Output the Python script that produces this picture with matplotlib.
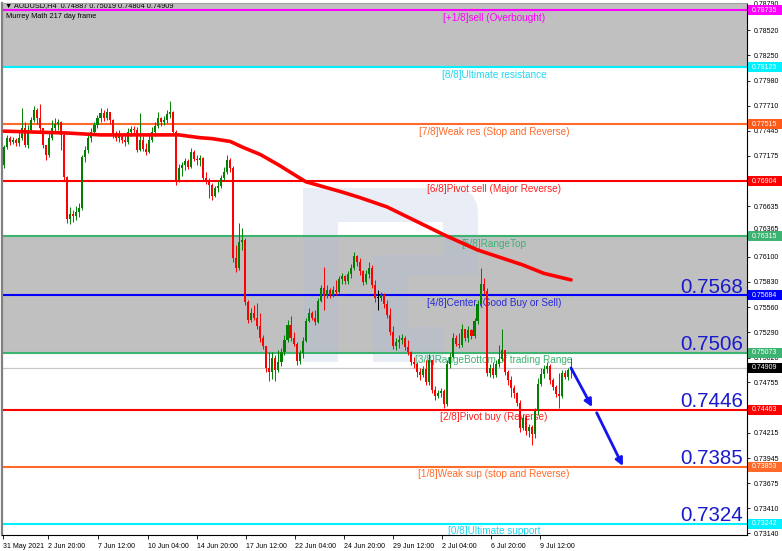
import matplotlib
matplotlib.use("Agg")
import matplotlib.pyplot as plt
from matplotlib.patches import Rectangle, Polygon
from matplotlib.transforms import blended_transform_factory, ScaledTranslation

plt.rcParams['font.family'] = ['Liberation Sans', 'DejaVu Sans']

# ---------------- data ----------------
chart_title = "\u25bc AUDUSD,H4  0.74887 0.75019 0.74804 0.74909"
indicator_name = "Murrey Math 217 day frame"

first_open = 0.7708
closes = [
    0.7727, 0.7737, 0.7732, 0.7735, 0.7731, 0.7737, 0.7747, 0.7729, 0.7745, 0.7756,
    0.7767, 0.7758, 0.7747, 0.7729, 0.7718, 0.7737, 0.7747, 0.7752, 0.7754, 0.7740,
    0.7695, 0.7650, 0.7655, 0.7653, 0.7658, 0.7662, 0.7716, 0.7724, 0.7737, 0.7743,
    0.7751, 0.7758, 0.7763, 0.7758, 0.7765, 0.7756, 0.7740, 0.7737, 0.7739, 0.7735,
    0.7732, 0.7743, 0.7746, 0.7745, 0.7724, 0.7735, 0.7725, 0.7722, 0.7735, 0.7743,
    0.7750, 0.7758, 0.7754, 0.7756, 0.7762, 0.7765, 0.7743, 0.7692, 0.7705, 0.7708,
    0.7712, 0.7706, 0.7722, 0.7714, 0.7713, 0.7715, 0.7694, 0.7690, 0.7686, 0.7675,
    0.7683, 0.7685, 0.7694, 0.7700, 0.7713, 0.7705, 0.7608, 0.7598, 0.7625, 0.7628,
    0.7561, 0.7542, 0.7550, 0.7544, 0.7536, 0.7523, 0.7514, 0.7491, 0.7487, 0.7501,
    0.7489, 0.7497, 0.7508, 0.7521, 0.7537, 0.7523, 0.7517, 0.7498, 0.7507, 0.7520,
    0.7541, 0.7550, 0.7544, 0.7540, 0.7562, 0.7576, 0.7568, 0.7574, 0.7569, 0.7574,
    0.7572, 0.7586, 0.7589, 0.7584, 0.7591, 0.7598, 0.7611, 0.7604, 0.7594, 0.7583,
    0.7591, 0.7598, 0.7580, 0.7566, 0.7566, 0.7569, 0.7559, 0.7547, 0.7529, 0.7514,
    0.7519, 0.7521, 0.7523, 0.7513, 0.7508, 0.7497, 0.7495, 0.7487, 0.7483, 0.7490,
    0.7476, 0.7499, 0.7467, 0.7461, 0.7464, 0.7466, 0.7452, 0.7495, 0.7503, 0.7523,
    0.7517, 0.7515, 0.7533, 0.7523, 0.7531, 0.7525, 0.7541, 0.7559, 0.7581, 0.7573,
    0.7485, 0.7491, 0.7483, 0.7495, 0.7500, 0.7510, 0.7487, 0.7478, 0.7469, 0.7464,
    0.7453, 0.7427, 0.7437, 0.7424, 0.7428, 0.7420, 0.7445, 0.7474, 0.7484, 0.7490,
    0.7493, 0.7478, 0.7471, 0.7463, 0.7461, 0.7485, 0.7481, 0.74887, 0.74909,
]
highs = [
    0.7729, 0.7740, 0.7739, 0.7738, 0.7737, 0.7745, 0.7769, 0.7754, 0.7751, 0.7759,
    0.7771, 0.7769, 0.7773, 0.7747, 0.7729, 0.7742, 0.7756, 0.7758, 0.7757, 0.7755,
    0.7743, 0.7696, 0.7663, 0.7660, 0.7664, 0.7667, 0.7719, 0.7728, 0.7742, 0.7747,
    0.7754, 0.7761, 0.7769, 0.7767, 0.7769, 0.7765, 0.7757, 0.7744, 0.7745, 0.7741,
    0.7740, 0.7747, 0.7749, 0.7749, 0.7748, 0.7763, 0.7739, 0.7731, 0.7742, 0.7748,
    0.7754, 0.7765, 0.7759, 0.7760, 0.7767, 0.7776, 0.7766, 0.7745, 0.7709, 0.7711,
    0.7715, 0.7714, 0.7726, 0.7724, 0.7719, 0.7719, 0.7716, 0.7700, 0.7694, 0.7689,
    0.7685, 0.7691, 0.7697, 0.7706, 0.7718, 0.7715, 0.7707, 0.7622, 0.7646, 0.7640,
    0.7630, 0.7563, 0.7555, 0.7558, 0.7560, 0.7550, 0.7526, 0.7514, 0.7508, 0.7508,
    0.7505, 0.7510, 0.7512, 0.7526, 0.7542, 0.7546, 0.7529, 0.7519, 0.7510, 0.7524,
    0.7544, 0.7555, 0.7552, 0.7553, 0.7566, 0.7580, 0.7599, 0.7580, 0.7576, 0.7578,
    0.7585, 0.7589, 0.7592, 0.7590, 0.7594, 0.7602, 0.7615, 0.7612, 0.7608, 0.7596,
    0.7596, 0.7604, 0.7601, 0.7585, 0.7574, 0.7572, 0.7571, 0.7563, 0.7555, 0.7536,
    0.7523, 0.7526, 0.7527, 0.7525, 0.7521, 0.7509, 0.7503, 0.7497, 0.7491, 0.7493,
    0.7499, 0.7506, 0.7499, 0.7472, 0.7467, 0.7469, 0.7468, 0.7499, 0.7507, 0.7528,
    0.7526, 0.7528, 0.7538, 0.7533, 0.7536, 0.7533, 0.7544, 0.7563, 0.7598, 0.7587,
    0.7576, 0.7495, 0.7497, 0.7499, 0.7515, 0.7533, 0.7510, 0.7489, 0.7482, 0.7473,
    0.7465, 0.7457, 0.7442, 0.7441, 0.7431, 0.7430, 0.7448, 0.7480, 0.7491, 0.7494,
    0.7497, 0.7495, 0.7480, 0.7473, 0.7485, 0.7489, 0.7489, 0.7491, 0.75019,
]
lows = [
    0.7705, 0.7725, 0.7729, 0.7730, 0.7728, 0.7728, 0.7735, 0.7727, 0.7726, 0.7743,
    0.7754, 0.7752, 0.7743, 0.7726, 0.7713, 0.7716, 0.7735, 0.7744, 0.7745, 0.7724,
    0.7692, 0.7646, 0.7645, 0.7647, 0.7649, 0.7652, 0.7660, 0.7711, 0.7721, 0.7732,
    0.7740, 0.7747, 0.7754, 0.7755, 0.7756, 0.7752, 0.7737, 0.7733, 0.7732, 0.7731,
    0.7728, 0.7730, 0.7739, 0.7741, 0.7722, 0.7723, 0.7723, 0.7719, 0.7721, 0.7732,
    0.7739, 0.7747, 0.7750, 0.7751, 0.7753, 0.7758, 0.7742, 0.7686, 0.7690, 0.7696,
    0.7703, 0.7704, 0.7705, 0.7712, 0.7708, 0.7707, 0.7692, 0.7688, 0.7673, 0.7670,
    0.7674, 0.7679, 0.7683, 0.7692, 0.7698, 0.7700, 0.7604, 0.7593, 0.7596, 0.7617,
    0.7558, 0.7539, 0.7540, 0.7542, 0.7533, 0.7519, 0.7511, 0.7487, 0.7477, 0.7479,
    0.7477, 0.7487, 0.7493, 0.7505, 0.7519, 0.7520, 0.7514, 0.7494, 0.7495, 0.7501,
    0.7519, 0.7540, 0.7542, 0.7537, 0.7539, 0.7561, 0.7553, 0.7566, 0.7566, 0.7567,
    0.7569, 0.7571, 0.7581, 0.7581, 0.7581, 0.7587, 0.7596, 0.7600, 0.7590, 0.7580,
    0.7581, 0.7587, 0.7576, 0.7561, 0.7553, 0.7562, 0.7555, 0.7544, 0.7526, 0.7511,
    0.7510, 0.7512, 0.7516, 0.7510, 0.7505, 0.7494, 0.7491, 0.7481, 0.7478, 0.7481,
    0.7473, 0.7473, 0.7464, 0.7457, 0.7459, 0.7460, 0.7448, 0.7450, 0.7491, 0.7501,
    0.7514, 0.7512, 0.7513, 0.7520, 0.7519, 0.7522, 0.7523, 0.7538, 0.7557, 0.7570,
    0.7482, 0.7481, 0.7480, 0.7481, 0.7492, 0.7498, 0.7483, 0.7473, 0.7460, 0.7459,
    0.7450, 0.7422, 0.7425, 0.7419, 0.7417, 0.7408, 0.7416, 0.7441, 0.7472, 0.7480,
    0.7485, 0.7474, 0.7467, 0.7460, 0.7448, 0.7459, 0.7479, 0.7478, 0.74804,
]

# moving average (sampled along its path)
ma_bars = [0, 21, 32, 43, 58, 65, 69, 75, 79, 85, 91, 95, 100, 112, 118, 127, 146, 157, 172, 179, 188]
ma_values = [0.7744, 0.7742, 0.7740, 0.7740, 0.7740, 0.7737, 0.7736, 0.7733, 0.7727, 0.7719,
             0.7708, 0.7700, 0.7690, 0.7679, 0.7673, 0.7663, 0.7633, 0.7617, 0.7601, 0.7592, 0.7585]

murrey_levels = [0.78735, 0.78125, 0.77515, 0.76904, 0.76315, 0.75684, 0.75073, 0.74463, 0.73853, 0.73242]
murrey_labels = ["[+1/8]sell (Overbought)", "[8/8]Ultimate resistance",
                 "[7/8]Weak res (Stop and Reverse)", "[6/8]Pivot sell (Major Reverse)",
                 "[5/8]RangeTop", "[4/8]Center (Good Buy or Sell)",
                 "[3/8]RangeBottom of trading Range", "[2/8]Pivot buy (Reverse)",
                 "[1/8]Weak sup (stop and Reverse)", "[0/8]Ultimate support"]
murrey_colors = ["#ff00ff", "#00f0ff", "#ff6a2a", "#ff0000", "#3cb371",
                 "#0000ff", "#3cb371", "#ff0000", "#ff6a2a", "#00f0ff"]
label_colors = ["#ff00ff", "#20d8f0", "#ff6a2a", "#ff2020", "#3cb371",
                "#2a2ad8", "#3cb371", "#ff2020", "#ff6a2a", "#20d8f0"]

target_texts = ["0.7568", "0.7506", "0.7446", "0.7385", "0.7324"]
target_levels = [0.75684, 0.75073, 0.74463, 0.73853, 0.73242]

current_price = 0.74909

arrow_x = [188, 195.0, 196.5, 205.2]
arrow_y = [0.74909, 0.7449, 0.7443, 0.7386]

axis_ticks = [0.78790, 0.78520, 0.78250, 0.77980, 0.77710, 0.77445, 0.77175, 0.76635,
              0.76365, 0.76100, 0.75830, 0.75560, 0.75290, 0.75020, 0.74755, 0.74215,
              0.73945, 0.73675, 0.73410, 0.73140]
date_labels = ["31 May 2021", "2 Jun 20:00", "7 Jun 12:00", "10 Jun 04:00", "14 Jun 20:00",
               "17 Jun 12:00", "22 Jun 04:00", "24 Jun 20:00", "29 Jun 12:00", "2 Jul 04:00",
               "6 Jul 20:00", "9 Jul 12:00"]
date_ticks = [-0.4, 14.7, 31.1, 47.6, 63.9, 80.2, 96.5, 112.8, 129.1, 145.3, 161.5, 177.7]

# ---------------- figure ----------------
W, H = 782, 551
fig = plt.figure(figsize=(W / 100, H / 100), dpi=100)
ax_l, ax_r, ax_t, ax_b = 2, 747, 3, 535
ax = fig.add_axes([ax_l / W, (H - ax_b) / H, (ax_r - ax_l) / W, (ax_b - ax_t) / H])
ax.set_facecolor("white")

xmin, xmax = -0.663, 246.35
ymin, ymax = 0.73123, 0.78810
ax.set_xlim(xmin, xmax)
ax.set_ylim(ymin, ymax)
blend = blended_transform_factory(ax.transAxes, ax.transData)
px_y = (ymax - ymin) / (ax_b - ax_t)   # price per pixel

def afx(px):
    return (px - ax_l) / (ax_r - ax_l)

def afy(py):
    return (ax_b - py) / (ax_b - ax_t)

# grey zones
ax.axhspan(murrey_levels[1], ymax, color="#c0c0c0", zorder=0.5, lw=0)
ax.axhspan(murrey_levels[6], murrey_levels[4], color="#c0c0c0", zorder=0.5, lw=0)

# watermark logo (decoration, axes-fraction)
logo_boxes = [(303, 188, 338, 362), (338, 188, 458, 222), (443, 222, 478, 275),
              (373, 255, 443, 275), (373, 275, 408, 362), (408, 327, 443, 362)]
for (x0, y0, x1, y1) in logo_boxes:
    ax.add_patch(Rectangle((afx(x0), afy(y1)), afx(x1) - afx(x0), afy(y0) - afy(y1),
                           transform=ax.transAxes, fc="#a8bcdc", alpha=0.25, lw=0, zorder=0.8))
corner = [(458, 188), (466, 190), (473, 196), (477, 204), (478, 212), (478, 222), (458, 222)]
ax.add_patch(Polygon([(afx(a), afy(b)) for a, b in corner], closed=True, transform=ax.transAxes,
                     fc="#a8bcdc", alpha=0.25, lw=0, zorder=0.8))

# current price line
ax.axhline(current_price, color="#c8c8c8", lw=0.9, zorder=1)

# murrey lines + labels
for lvl, lab, col, tcol in zip(murrey_levels, murrey_labels, murrey_colors, label_colors):
    ax.axhline(lvl, color=col, lw=1.5, zorder=1.5)
    ax.annotate(lab, xy=(afx(494), lvl), xycoords=blend, xytext=(0, -1.8),
                textcoords="offset points", ha="center", va="top", fontsize=7.2,
                color=tcol, zorder=2)

# candles
n = len(closes)
opens = [first_open] + closes[:-1]
xs = list(range(n))
colors, bottoms, heights = [], [], []
for o, c in zip(opens, closes):
    if c > o:
        colors.append("#008000")
    elif c < o:
        colors.append("#ff0000")
    else:
        colors.append("#000000")
    bottoms.append(min(o, c))
    heights.append(max(abs(c - o), px_y * 0.9))
ax.vlines(xs, lows, highs, colors=colors, lw=0.7, zorder=3)
ax.bar(xs, heights, bottom=bottoms, width=0.68, color=colors, lw=0, zorder=3.1)

# moving average
ax.plot(ma_bars, ma_values, color="#ff0000", lw=2.6, solid_capstyle="round",
        solid_joinstyle="round", zorder=4)

# target numbers
for txt, lvl in zip(target_texts, target_levels):
    ax.annotate(txt, xy=(afx(743), lvl), xycoords=blend, xytext=(0, 2),
                textcoords="offset points", ha="right", va="baseline", fontsize=14.8,
                color="#1a1acd", zorder=5)

# forecast arrows
for k in (0, 2):
    ax.annotate("", xy=(arrow_x[k + 1], arrow_y[k + 1]), xytext=(arrow_x[k], arrow_y[k]),
                arrowprops=dict(arrowstyle="-|>", color="#1414f0", lw=2.0,
                                mutation_scale=11, shrinkA=0, shrinkB=0), zorder=6)

# header texts
ax.text(afx(5), afy(6), chart_title, transform=ax.transAxes, fontsize=5.3,
        va="center", ha="left", color="black", zorder=1.2)
ax.text(afx(6), afy(17), indicator_name, transform=ax.transAxes, fontsize=5.3,
        va="center", ha="left", color="black", zorder=7)

# axes / ticks
ax.yaxis.tick_right()
ax.set_yticks(axis_ticks)
ax.set_yticklabels([f"{t:.5f}" for t in axis_ticks])
ax.tick_params(axis="y", direction="out", length=2.5, width=0.6, labelsize=5, pad=2,
               colors="black")
ax.set_xticks(date_ticks)
ax.set_xticklabels(date_labels, ha="left")
ax.tick_params(axis="x", direction="out", length=3, width=0.6, labelsize=5, pad=2.5)

# nudge the two scale labels that sit right next to a price box
nudges = {"0.76365": 3.0, "0.78790": 1.6}
for tick in ax.yaxis.get_major_ticks():
    lab = tick.label2
    if lab.get_text() in nudges:
        lab.set_transform(lab.get_transform() +
                          ScaledTranslation(0, nudges[lab.get_text()] / 100, fig.dpi_scale_trans))

for side in ("right", "bottom"):
    ax.spines[side].set_color("black")
    ax.spines[side].set_linewidth(0.8)
ax.spines["left"].set_color("#808080")
ax.spines["left"].set_linewidth(1.6)
ax.spines["top"].set_color("#a0a0a0")
ax.spines["top"].set_linewidth(0.8)

# price boxes on right scale
box_levels = murrey_levels + [current_price]
box_colors = ["#ff00ff", "#00f0ff", "#ff5a1a", "#ff0000", "#3cb371",
              "#0000ff", "#3cb371", "#ff0000", "#ff6a2a", "#00f0ff", "#000000"]
bh = 10 * px_y
for lvl, col in zip(box_levels, box_colors):
    ax.add_patch(Rectangle((1.0 + 1 / 745, lvl - bh / 2), 34 / 745, bh, transform=blend,
                           fc=col, ec="none", clip_on=False, zorder=10))
    ax.text(1.0 + 5 / 745, lvl, f"{lvl:.5f}", transform=blend, fontsize=5, color="white",
            ha="left", va="center", clip_on=False, zorder=11)

fig.savefig("out.png", dpi=100, facecolor="white")
